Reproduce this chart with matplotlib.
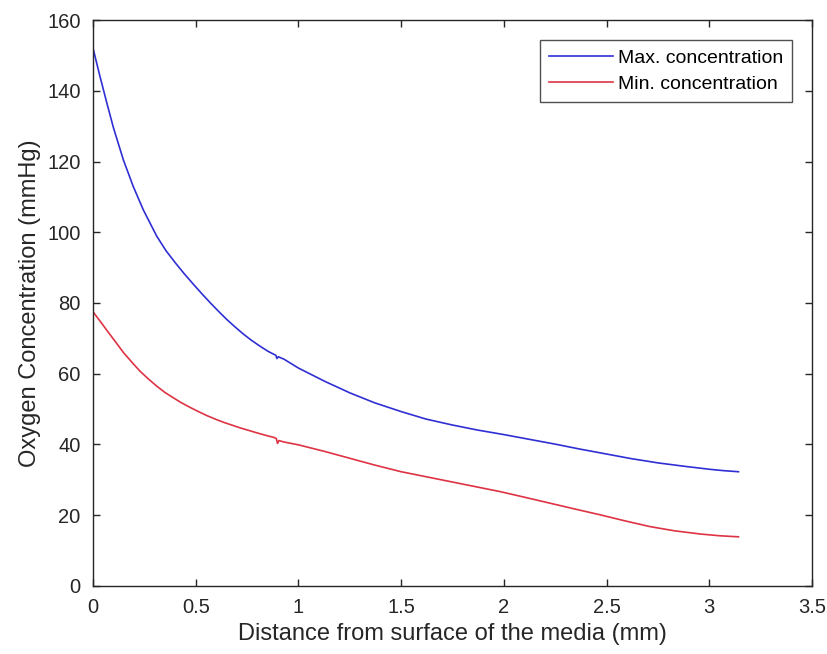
import numpy as np
import matplotlib
matplotlib.use("Agg")
import matplotlib.pyplot as plt

plt.rcParams['font.family'] = ['Liberation Sans', 'DejaVu Sans']

# values
dist_max = [0.0, 0.034, 0.067, 0.099, 0.148, 0.196, 0.245, 0.31, 0.355, 0.40, 0.445,
            0.49, 0.53, 0.57, 0.61, 0.65, 0.69, 0.73, 0.77, 0.81, 0.85, 0.88,
            0.89, 0.895, 0.902, 0.93, 1.0, 1.13, 1.25, 1.37, 1.5, 1.62, 1.75,
            1.87, 2.0, 2.12, 2.25, 2.37, 2.5, 2.62, 2.75, 2.87, 3.0, 3.07, 3.142]
conc_max = [152.0, 144.0, 136.6, 129.6, 120.4, 112.9, 106.3, 98.9, 94.8, 91.4, 88.2,
            85.2, 82.6, 80.1, 77.7, 75.4, 73.3, 71.3, 69.5, 67.9, 66.4, 65.5,
            65.2, 64.3, 64.8, 64.1, 61.6, 57.8, 54.6, 51.8, 49.3, 47.2, 45.5,
            44.1, 42.8, 41.5, 40.1, 38.7, 37.3, 36.0, 34.8, 33.9, 33.0, 32.6, 32.3]

dist_min = [0.0, 0.034, 0.067, 0.107, 0.148, 0.19, 0.229, 0.27, 0.31, 0.35, 0.391,
            0.43, 0.472, 0.513, 0.553, 0.594, 0.634, 0.675, 0.716, 0.757, 0.797,
            0.84, 0.88, 0.892, 0.898, 0.905, 0.93, 1.0, 1.13, 1.25, 1.37, 1.5,
            1.62, 1.74, 1.86, 1.98, 2.1, 2.225, 2.35, 2.47, 2.59, 2.71, 2.83,
            2.955, 3.05, 3.142]
conc_min = [77.5, 74.9, 72.3, 69.2, 66.0, 63.2, 60.7, 58.5, 56.5, 54.7, 53.2,
            51.8, 50.5, 49.3, 48.2, 47.2, 46.3, 45.5, 44.7, 44.0, 43.3,
            42.6, 42.0, 41.7, 40.3, 41.1, 40.7, 39.9, 38.0, 36.1, 34.2, 32.3,
            30.9, 29.5, 28.1, 26.7, 25.1, 23.4, 21.7, 20.1, 18.4, 16.8, 15.6,
            14.7, 14.2, 13.9]

fig = plt.figure(figsize=(8.27, 6.54), dpi=100)
ax = fig.add_axes([0.1125, 0.104, 0.8694, 0.8654])

ax.plot(dist_max, conc_max, color='#2f2fd4', lw=1.2, label='Max. concentration')
ax.plot(dist_min, conc_min, color='#dd3344', lw=1.2, label='Min. concentration')

ax.set_xlim(0, 3.5); ax.set_ylim(0, 160)
ax.set_xticks(np.arange(0, 3.51, 0.5))
ax.set_xticklabels(['0', '0.5', '1', '1.5', '2', '2.5', '3', '3.5'])
ax.set_yticks(np.arange(0, 161, 20))
ax.tick_params(direction='in', top=True, right=True, length=5, width=1,
               labelsize=14.5, colors='#262626', pad=9)
for s in ax.spines.values():
    s.set_color('#262626'); s.set_linewidth(1)

ax.set_xlabel('Distance from surface of the media (mm)', fontsize=17, color='#262626',
              labelpad=4)
ax.set_ylabel('Oxygen Concentration (mmHg)', fontsize=17, color='#262626', labelpad=4)

leg = ax.legend(loc='upper right', fontsize=14, frameon=True, fancybox=False,
                edgecolor='#262626', borderpad=0.45, handlelength=3.3,
                labelspacing=0.45, handletextpad=0.25, borderaxespad=1.05)
leg.get_frame().set_linewidth(1)

fig.savefig("out.png", dpi=100)
